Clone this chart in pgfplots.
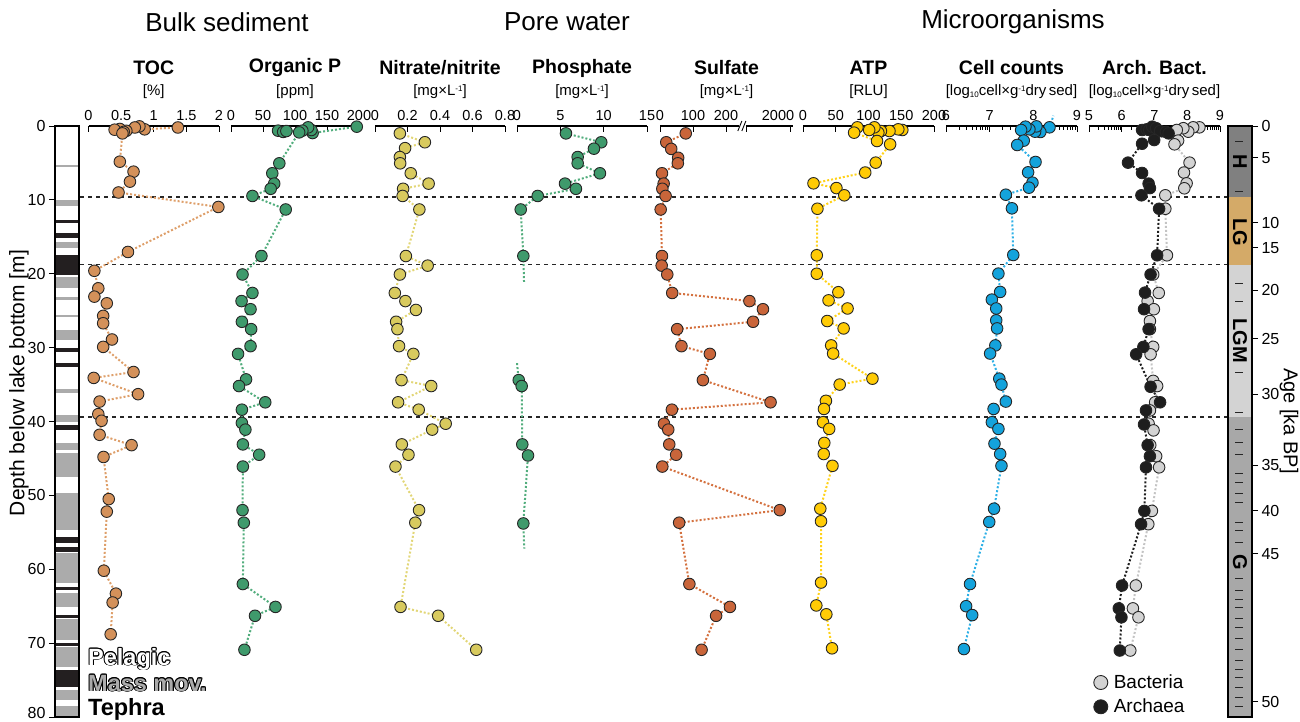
\documentclass[border=0pt]{standalone}
\usepackage{fontspec}
\setmainfont{Liberation Sans}
\usepackage{pgfplots}
\pgfplotsset{compat=1.18}

\definecolor{cTOC}{HTML}{D4915A}\definecolor{lTOC}{HTML}{DE9F6A}
\definecolor{cOP}{HTML}{3F9A6C}\definecolor{lOP}{HTML}{52AD7D}
\definecolor{cNI}{HTML}{D8CA5E}\definecolor{lNI}{HTML}{E2D677}
\definecolor{cSU}{HTML}{C9653A}\definecolor{lSU}{HTML}{D4713F}
\definecolor{cATP}{HTML}{FFCB05}\definecolor{lATP}{HTML}{FFD21A}
\definecolor{cCC}{HTML}{14A3DC}\definecolor{lCC}{HTML}{2EB0E6}
\definecolor{cBA}{HTML}{D3D3D3}\definecolor{lBA}{HTML}{C4C4C4}
\definecolor{cAR}{HTML}{1E1E1E}\definecolor{lAR}{HTML}{1E1E1E}
\definecolor{litho}{HTML}{ABABAB}\definecolor{tephra}{HTML}{231F20}
\definecolor{ageH}{HTML}{808080}\definecolor{ageLG}{HTML}{D4AA68}
\definecolor{ageLGM}{HTML}{D3D3D3}\definecolor{ageG}{HTML}{A8A8A8}

\newcommand{\fs}[1]{\fontsize{#1}{#1}\selectfont}
\newcommand{\band}[3]{\addplot[fill=#3, draw=none, forget plot] coordinates {(0,#1)(1,#1)(1,#2)(0,#2)};}
\newcommand{\sups}[1]{\raisebox{0.55ex}{\fs{8}#1}}
\newcommand{\subs}[1]{\raisebox{-0.25ex}{\fs{8}#1}}

\pgfplotsset{
  panel/.style={scale only axis, height=591pt, ymin=0, ymax=80, y dir=reverse,
    axis x line=top, axis y line=none,
    x axis line style={-, line width=1.2pt},
    tick align=inside, major tick length=6pt, minor tick length=3.5pt,
    every tick/.append style={line width=0.9pt, black},
    xticklabel style={font=\fs{14.5}, inner sep=2pt, yshift=3pt},
    /pgf/number format/assume math mode=true,
    clip=false, anchor=north west},
  ser/.style 2 args={draw=#2, line width=2pt, dash pattern=on 2pt off 2pt,
    mark=*, mark size=5.8pt,
    mark options={solid, fill=#1, draw=black!85, line width=0.9pt}},
  seg/.style={draw=#1, line width=2pt, dash pattern=on 2pt off 2pt, no marks, forget plot},
}

\begin{document}
\begin{tikzpicture}
\path[use as bounding box] (0,0) rectangle (1300pt,-722pt);

% dashed boundaries
\begin{axis}[scale only axis, at={(80pt,-126pt)}, anchor=north west, width=1148pt, height=591pt,
  hide axis, xmin=0, xmax=1, ymin=0, ymax=80, y dir=reverse]
\addplot[black!85, line width=1.2pt, dash pattern=on 4pt off 4pt] coordinates {(0,9.6)(1,9.6)};
\addplot[black!85, line width=1.2pt, dash pattern=on 4pt off 4pt] coordinates {(0,18.8)(1,18.8)};
\addplot[black!85, line width=1.2pt, dash pattern=on 4pt off 4pt] coordinates {(0,39.4)(1,39.4)};
\end{axis}

% lithology column
\begin{axis}[scale only axis, at={(55pt,-126pt)}, anchor=north west, width=24pt, height=591pt,
  xmin=0, xmax=1, ymin=0, ymax=80, y dir=reverse, xtick=\empty, ytick={0,10,...,70},
  extra y ticks={80}, extra y tick style={yticklabel style={yshift=4pt}},
  ytick pos=left, tick align=outside, major tick length=6pt,
  axis line style={line width=1.6pt}, every tick/.append style={line width=1pt, black},
  yticklabel style={font=\fs{16}},
  /pgf/number format/assume math mode=true, axis on top]
\band{5.3}{5.6}{litho}\band{10.0}{10.8}{litho}\band{12.7}{13.1}{tephra}
\band{14.5}{15.2}{tephra}\band{15.7}{16.5}{litho}\band{17.5}{20.2}{tephra}
\band{20.4}{21.9}{litho}\band{23.1}{23.5}{litho}\band{25.6}{25.8}{litho}
\band{27.6}{29.0}{litho}\band{30.0}{30.6}{tephra}\band{32.1}{32.6}{tephra}
\band{35.6}{36.1}{litho}\band{39.1}{40.1}{litho}\band{40.5}{41.1}{tephra}
\band{42.9}{43.8}{litho}\band{44.2}{47.5}{litho}\band{49.7}{54.7}{litho}
\band{55.6}{56.4}{tephra}\band{57.0}{57.6}{tephra}\band{57.8}{61.8}{litho}
\band{62.4}{62.8}{tephra}\band{63.2}{65.1}{litho}\band{66.2}{66.6}{tephra}
\band{66.8}{69.6}{litho}\band{70.0}{70.4}{tephra}\band{70.5}{73.2}{litho}
\band{73.6}{76.0}{tephra}\band{76.3}{77.7}{litho}\band{78.5}{80}{litho}
\end{axis}

% TOC
\begin{axis}[panel, at={(88.5pt,-126pt)}, width=130.5pt, xmin=0, xmax=2, xtick={0,0.5,1,1.5,2}]
\addplot[ser={cTOC}{lTOC}] coordinates {(1.37,0.2)(0.86,0.45)(0.78,0.05)(0.71,0.2)(0.58,0.65)(0.48,0.4)(0.40,0.5)(0.54,0.8)(0.52,1.0)(0.48,4.83)(0.69,6.18)(0.635,7.53)(0.46,9.0)(1.99,10.96)(0.605,17.05)(0.09,19.6)(0.15,21.97)(0.09,23.1)(0.28,24.0)(0.225,25.7)(0.225,26.7)(0.36,28.9)(0.225,29.9)(0.69,33.3)(0.08,34.1)(0.76,36.3)(0.17,37.3)(0.15,39.0)(0.20,39.9)(0.17,41.8)(0.66,43.2)(0.23,44.8)(0.31,50.5)(0.28,52.2)(0.235,60.2)(0.42,63.3)(0.37,64.5)(0.34,68.8)};
\end{axis}

% Organic P
\begin{axis}[panel, at={(231pt,-126pt)}, width=128pt, xmin=0, xmax=200, xtick={0,50,100,150,200}]
\addplot[ser={cOP}{lOP}] coordinates {(196.5,0.09)(127.5,0.95)(125.5,0.54)(120.5,0.18)(111.5,0.63)(73.5,0.63)(81.5,0.8)(86.5,0.68)(106.5,0.86)(75.5,5.05)(64.5,6.4)(67.5,7.8)(62,8.5)(33.5,9.47)(85.5,11.3)(47.5,17.6)(18,20.1)(33.5,22.6)(16.5,23.7)(30.5,24.8)(17,26.5)(31.5,27.5)(30.5,29.8)(11,30.85)(23.5,34.3)(12.5,35.2)(53.5,37.4)(17,38.4)(17,40.2)(22.5,41.1)(18.5,43.1)(44,44.5)(18.5,46.1)(18,52.0)(20,53.7)(18.5,62.0)(69.5,65.1)(37.5,66.3)(21,70.9)};
\end{axis}

% Nitrate/nitrite
\begin{axis}[panel, at={(375pt,-126pt)}, width=130pt, xmin=0, xmax=0.8, xtick={0,0.2,0.4,0.6,0.8}]
\addplot[ser={cNI}{lNI}] coordinates {(0.153,1.0)(0.307,2.2)(0.185,3.0)(0.153,4.2)(0.155,5.05)(0.22,6.4)(0.33,7.8)(0.173,8.5)(0.17,9.47)(0.273,11.3)(0.19,17.6)(0.324,18.9)(0.153,20.1)(0.122,22.6)(0.187,23.7)(0.252,24.9)(0.13,26.5)(0.138,27.5)(0.148,29.8)(0.236,30.85)(0.163,34.4)(0.346,35.2)(0.142,37.4)(0.269,38.4)(0.435,40.3)(0.352,41.1)(0.165,43.1)(0.206,44.5)(0.126,46.1)(0.271,52.0)(0.248,53.7)(0.157,65.1)(0.389,66.3)(0.623,70.9)};
\end{axis}

% Phosphate
\begin{axis}[panel, at={(517pt,-126pt)}, width=130pt, xmin=0, xmax=15, xtick={0,5,10,15}]
\addplot[seg=lOP] coordinates {(0.73,17.6)(0.81,21.1)};
\addplot[seg=lOP] coordinates {(0.0,32.1)(0.2,34.4)};
\addplot[seg=lOP] coordinates {(0.73,53.8)(0.84,57.2)};
\addplot[ser={cOP}{lOP}] coordinates {(5.65,1.0)(9.72,2.2)(8.88,3.07)(7.0,4.2)(7.0,5.05)(9.57,6.4)(5.54,7.8)(6.8,8.5)(2.39,9.47)(0.43,11.3)(0.73,17.6)};
\addplot[ser={cOP}{lOP}] coordinates {(0.2,34.4)(0.54,35.2)(0.61,43.1)(1.27,44.6)(0.73,53.8)};
\end{axis}

% Sulfate (broken axis, 2000 plotted after the break)
\begin{axis}[panel, at={(660pt,-126pt)}, width=133pt, xmin=0, xmax=403,
  xtick={0,100,200,262}, xticklabels={0,100,200,},
  extra x ticks={394}, extra x tick labels={2000},
  extra x tick style={xticklabel style={xshift=-12pt}}]
\fill[white] ([xshift=-3.5pt,yshift=-2pt]axis cs:251,0) rectangle ([xshift=3.5pt,yshift=2pt]axis cs:251,0);
\draw[line width=0.9pt] ([xshift=-5pt,yshift=-5pt]axis cs:251,0) -- ([xshift=-1pt,yshift=5pt]axis cs:251,0);
\draw[line width=0.9pt] ([xshift=-1pt,yshift=-5pt]axis cs:251,0) -- ([xshift=3pt,yshift=5pt]axis cs:251,0);
\addplot[ser={cSU}{lSU}] coordinates {(78,1.0)(19,2.2)(34,3.1)(55,4.3)(54,5.05)(6,6.4)(11,7.8)(7,8.5)(17,9.47)(2,11.3)(6,17.6)(5,18.9)(22,20.1)(37,22.6)(271,23.7)(312,24.8)(282,26.5)(52,27.5)(65,29.8)(151,30.85)(130,34.4)(335,37.4)(36,38.4)(12,40.3)(25,41.1)(28,43.1)(49,44.5)(7,46.1)(363,52.0)(58,53.7)(89,62.0)(212,65.1)(170,66.3)(126,70.9)};
\end{axis}

% ATP
\begin{axis}[panel, at={(803pt,-126pt)}, width=131pt, xmin=0, xmax=200, xtick={0,50,100,150,200}]
\addplot[ser={cATP}{lATP}] coordinates {(151.6,0.54)(145.5,0.45)(132,0.68)(119,0.68)(115,0.9)(109,0.18)(101,0.54)(83,0.18)(78,0.9)(113,2.03)(133,2.48)(111,4.96)(95,6.3)(16,7.76)(51,8.4)(63,9.38)(22,11.2)(21,17.5)(21,20.0)(54,22.5)(39,23.6)(68,24.7)(37,26.4)(62,27.4)(43,29.7)(46,30.8)(106,34.2)(56,35.0)(35,37.2)(32,38.3)(30.5,40.1)(40,41.0)(32.5,42.9)(31.6,44.4)(45,46.0)(26.4,51.8)(27.5,53.5)(27.5,61.8)(20.3,64.9)(35.6,66.1)(44.3,70.7)};
\end{axis}

% Cell counts
\begin{axis}[panel, at={(946pt,-126pt)}, width=131pt, xmin=6, xmax=9, xtick={6,7,8,9},
  minor xtick={6.301,6.477,6.602,6.699,6.778,6.845,6.903,6.954,7.301,7.477,7.602,7.699,7.778,7.845,7.903,7.954,8.301,8.477,8.602,8.699,8.778,8.845,8.903,8.954}]
\addplot[seg=lCC] coordinates {(8.37,0.18)(8.46,-1.4)};
\addplot[ser={cCC}{lCC}] coordinates {(8.37,0.18)(8.16,0.81)(8.04,0.77)(8.07,0.05)(7.91,0.45)(7.82,0.09)(7.72,0.54)(7.78,1.98)(7.63,2.57)(8.05,4.87)(7.88,6.27)(7.98,7.67)(7.90,8.35)(7.37,9.3)(7.51,11.14)(7.54,17.46)(7.20,19.98)(7.24,22.46)(7.05,23.5)(7.15,24.7)(7.15,26.3)(7.17,27.4)(7.13,29.7)(7.01,30.8)(7.22,34.2)(7.27,35.0)(7.37,37.3)(7.09,38.3)(7.05,40.1)(7.20,41.0)(7.11,43.0)(7.24,44.4)(7.27,46.0)(7.10,51.8)(6.99,53.6)(6.55,62.0)(6.46,65.0)(6.60,66.2)(6.41,70.8)};
\end{axis}

% Archaea / Bacteria
\begin{axis}[panel, at={(1089pt,-126pt)}, width=131pt, xmin=5, xmax=9, xtick={5,6,7,8,9},
  minor xtick={5.301,5.477,5.602,5.699,5.778,5.845,5.903,5.954,6.301,6.477,6.602,6.699,6.778,6.845,6.903,6.954,7.301,7.477,7.602,7.699,7.778,7.845,7.903,7.954,8.301,8.477,8.602,8.699,8.778,8.845,8.903,8.954},
  legend style={at={(0.035,0.075)}, anchor=north west, draw=none, fill=none, font=\fs{19},
    row sep=5pt, inner sep=0pt, cells={anchor=west}},
  legend cell align=left]
\addlegendimage{only marks, mark=*, mark size=7pt, mark options={fill=cBA, draw=black!85, line width=0.9pt}}
\addlegendentry{\hspace{4pt}Bacteria}
\addlegendimage{only marks, mark=*, mark size=7pt, mark options={fill=cAR, draw=black!85, line width=0.9pt}}
\addlegendentry{\hspace{4pt}Archaea}
\addplot[ser={cBA}{lBA}, forget plot] coordinates {(8.37,0.18)(8.18,0.18)(8.03,0.77)(7.88,0.3)(7.68,0.54)(7.72,1.98)(7.61,2.48)(8.07,4.96)(7.90,6.3)(7.98,7.76)(7.91,8.43)(7.33,9.38)(7.33,11.2)(7.38,17.5)(6.96,20.1)(7.13,22.6)(6.79,23.7)(6.98,24.8)(6.86,26.4)(6.86,27.5)(6.96,29.9)(6.88,30.9)(6.96,34.5)(7.08,35.2)(7.02,37.4)(6.86,38.5)(6.82,40.3)(6.97,41.2)(6.87,43.2)(7.05,44.7)(7.14,46.2)(6.92,52.1)(6.81,53.9)(6.43,62.2)(6.34,65.3)(6.51,66.5)(6.26,71.0)};
\addplot[ser={cAR}{lAR}, forget plot] coordinates {(6.62,0.54)(6.76,0.45)(6.84,0.54)(6.93,0.09)(7.05,0.3)(7.17,0.68)(7.35,0.8)(7.43,1.0)(6.99,1.9)(6.62,2.4)(6.19,4.96)(6.62,6.36)(6.82,7.8)(6.86,8.4)(6.60,9.38)(7.14,11.2)(7.08,17.5)(6.88,20.1)(6.71,22.55)(6.68,24.8)(6.82,27.5)(6.66,29.9)(6.44,30.9)(6.88,35.3)(7.17,37.4)(6.74,38.5)(6.68,40.4)(6.79,43.2)(6.86,44.7)(6.74,46.2)(6.69,52.1)(6.59,53.9)(6.01,62.2)(5.91,65.3)(5.99,66.5)(5.94,71.0)};
\end{axis}

% Age column
\begin{axis}[scale only axis, at={(1228pt,-126pt)}, anchor=north west, width=24pt, height=591pt,
  xmin=0, xmax=1, ymin=0, ymax=80, y dir=reverse, xtick=\empty,
  ytick={0,4.33,13.1,16.5,22.2,28.8,36.3,45.9,52.1,57.9,77.9},
  yticklabels={0,5,10,15,20,25,30,35,40,45,50},
  ytick pos=right, tick align=outside, major tick length=6pt,
  axis line style={line width=1.6pt}, every tick/.append style={line width=1pt, black},
  yticklabel style={font=\fs{16}},
  /pgf/number format/assume math mode=true, axis on top, clip=false]
\band{0}{9.6}{ageH}\band{9.6}{18.8}{ageLG}\band{18.8}{39.4}{ageLGM}\band{39.4}{80}{ageG}
\pgfplotsinvokeforeach{2.1,8.9,21.3,23.7,33.4,38.7,41.1,42.8,44.5,47.0,48.3,49.7,51.0,53.6,54.7,56.3,61.2,62.8,64.1,65.2,66.6,67.9,69.3,70.9,72.3,73.6,74.7,76.0,77.4,78.6}{
  \draw[black!85, line width=0.8pt] (axis cs:0.3,#1) -- (axis cs:0.62,#1);}
\node[rotate=-90, font=\bfseries\fs{20}] at (axis cs:0.5,4.8) {H};
\node[rotate=-90, font=\bfseries\fs{20}] at (axis cs:0.5,14.4) {LG};
\node[rotate=-90, font=\bfseries\fs{20}] at (axis cs:0.5,29.1) {LGM};
\node[rotate=-90, font=\bfseries\fs{20}] at (axis cs:0.5,59.0) {G};
\end{axis}

% headings
\node[font=\fs{26}] at (227pt,-22pt) {Bulk sediment};
\node[font=\fs{26}] at (567pt,-22pt) {Pore water};
\node[font=\fs{26}] at (1013pt,-22pt) {Microorganisms};

\node[font=\bfseries\fs{19.5}] at (153.75pt,-68pt) {TOC};
\node[font=\bfseries\fs{19.5}] at (295pt,-68pt) {Organic P};
\node[font=\bfseries\fs{19.5}] at (440pt,-68pt) {Nitrate/nitrite};
\node[font=\bfseries\fs{19.5}] at (582pt,-68pt) {Phosphate};
\node[font=\bfseries\fs{19.5}] at (726.5pt,-68pt) {Sulfate};
\node[font=\bfseries\fs{19.5}] at (868.5pt,-68pt) {ATP};
\node[font=\bfseries\fs{19.5}] at (1011.5pt,-68pt) {Cell counts};
\node[font=\bfseries\fs{19.5}] at (1154.5pt,-68pt) {Arch. Bact.};

\node[font=\fs{15}] at (153.75pt,-92pt) {[\%]};
\node[font=\fs{15}] at (295pt,-92pt) {[ppm]};
\node[font=\fs{15}] at (440pt,-92pt) {[mg×L\sups{-1}]};
\node[font=\fs{15}] at (582pt,-92pt) {[mg×L\sups{-1}]};
\node[font=\fs{15}] at (726.5pt,-92pt) {[mg×L\sups{-1}]};
\node[font=\fs{15}] at (868.5pt,-92pt) {[RLU]};
\node[font=\fs{15}] at (1011.5pt,-92pt) {[log\subs{10}cell×g\sups{-1}dry\,sed]};
\node[font=\fs{15}] at (1154.5pt,-92pt) {[log\subs{10}cell×g\sups{-1}dry\,sed]};

\node[rotate=90, font=\fs{21}] at (19pt,-383pt) {Depth below lake bottom [m]};
\node[rotate=-90, font=\fs{20}] at (1289pt,-421pt) {Age [ka BP]};

% lithology legend
\foreach \a in {0,30,...,330}{
  \node[anchor=base west, inner sep=0pt, text=black, font=\bfseries\fs{23.5}] at ([shift={(\a:0.9pt)}]88pt,-665pt) {Pelagic};
  \node[anchor=base west, inner sep=0pt, text=black, font=\bfseries\fs{23.5}] at ([shift={(\a:0.9pt)}]88pt,-691pt) {Mass mov.};
}
\node[anchor=base west, inner sep=0pt, text=white, font=\bfseries\fs{23.5}] at (88pt,-665pt) {Pelagic};
\node[anchor=base west, inner sep=0pt, text=litho, font=\bfseries\fs{23.5}] at (88pt,-691pt) {Mass mov.};
\node[anchor=base west, inner sep=0pt, text=black, font=\bfseries\fs{23.5}] at (88pt,-715pt) {Tephra};
\end{tikzpicture}
\end{document}
